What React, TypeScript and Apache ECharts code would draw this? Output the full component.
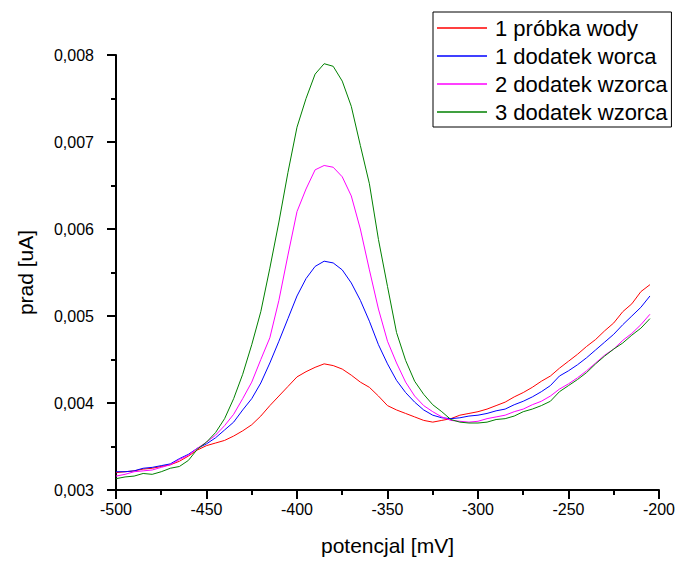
import React, { useEffect, useRef } from "react";
import * as echarts from "echarts";

const potentials = [
  -500, -495, -490, -485, -480, -475, -470, -465, -460, -455,
  -450, -445, -440, -435, -430, -425, -420, -415, -410, -405,
  -400, -395, -390, -385, -380, -375, -370, -365, -360, -355,
  -350, -345, -340, -335, -330, -325, -320, -315, -310, -305,
  -300, -295, -290, -285, -280, -275, -270, -265, -260, -255,
  -250, -245, -240, -235, -230, -225, -220, -215, -210, -205,
];

const probkaWody = [
  0.00320, 0.00321, 0.00322, 0.00324, 0.00325, 0.00327, 0.00329, 0.00333, 0.00339, 0.00346,
  0.00351, 0.00354, 0.00357, 0.00362, 0.00368, 0.00375, 0.00385, 0.00397, 0.00408, 0.00419,
  0.00430, 0.00436, 0.00441, 0.00445, 0.00443, 0.00439, 0.00432, 0.00424, 0.00418, 0.00408,
  0.00397, 0.00392, 0.00388, 0.00384, 0.00380, 0.00378, 0.00380, 0.00382, 0.00386, 0.00388,
  0.00390, 0.00393, 0.00397, 0.00401, 0.00407, 0.00412, 0.00418, 0.00425, 0.00431, 0.00440,
  0.00448, 0.00456, 0.00465, 0.00473, 0.00483, 0.00492, 0.00505, 0.00514, 0.00528, 0.00536,
];

const dodatek1 = [
  0.00321, 0.00321, 0.00322, 0.00325, 0.00326, 0.00328, 0.00330, 0.00336, 0.00341, 0.00348,
  0.00353, 0.00360, 0.00369, 0.00378, 0.00392, 0.00405, 0.00423, 0.00446, 0.00471, 0.00497,
  0.00523, 0.00543, 0.00557, 0.00563, 0.00561, 0.00553, 0.00538, 0.00518, 0.00494, 0.00467,
  0.00445, 0.00426, 0.00412, 0.00401, 0.00392, 0.00386, 0.00383, 0.00382, 0.00383, 0.00385,
  0.00386, 0.00388, 0.00391, 0.00393, 0.00398, 0.00402, 0.00407, 0.00413, 0.00420, 0.00431,
  0.00437, 0.00444, 0.00452, 0.00461, 0.00470, 0.00479, 0.00490, 0.00500, 0.00510, 0.00523,
];

const dodatek2 = [
  0.00316, 0.00318, 0.00321, 0.00322, 0.00323, 0.00326, 0.00329, 0.00335, 0.00340, 0.00348,
  0.00355, 0.00363, 0.00374, 0.00387, 0.00405, 0.00424, 0.00450, 0.00475, 0.00518, 0.00570,
  0.00620, 0.00646, 0.00668, 0.00673, 0.00671, 0.00660, 0.00638, 0.00600, 0.00553, 0.00508,
  0.00471, 0.00446, 0.00424, 0.00408, 0.00397, 0.00390, 0.00384, 0.00380, 0.00379, 0.00378,
  0.00379, 0.00382, 0.00384, 0.00386, 0.00390, 0.00393, 0.00398, 0.00402, 0.00408, 0.00416,
  0.00422, 0.00429, 0.00437, 0.00446, 0.00455, 0.00462, 0.00472, 0.00480, 0.00490, 0.00502,
];

const dodatek3 = [
  0.00313, 0.00315, 0.00316, 0.00319, 0.00318, 0.00321, 0.00325, 0.00327, 0.00334, 0.00347,
  0.00355, 0.00366, 0.00382, 0.00405, 0.00433, 0.00467, 0.00505, 0.00555, 0.00608, 0.00665,
  0.00717, 0.00750, 0.00778, 0.00790, 0.00787, 0.00770, 0.00741, 0.00696, 0.00652, 0.00588,
  0.00534, 0.00481, 0.00449, 0.00425, 0.00410, 0.00398, 0.00390, 0.00381, 0.00378, 0.00377,
  0.00377, 0.00378, 0.00381, 0.00382, 0.00385, 0.00390, 0.00393, 0.00397, 0.00402, 0.00413,
  0.00420, 0.00427, 0.00435, 0.00445, 0.00454, 0.00462, 0.00469, 0.00478, 0.00486, 0.00497,
];

const seriesNames = ["1 próbka wody", "1 dodatek worca", "2 dodatek wzorca", "3 dodatek wzorca"];
const seriesColors = ["#ff0000", "#0000ff", "#ff00ff", "#008000"];
const seriesValues = [probkaWody, dodatek1, dodatek2, dodatek3];

const FONT = "'Liberation Sans', Arial, sans-serif";

export default function App() {
  const ref = useRef<HTMLDivElement>(null);
  useEffect(() => {
    if (!ref.current) return;
    const chart = echarts.init(ref.current, undefined, { renderer: "svg" });
    const makeAxisParts = () => ({
      axisLine: { show: true, lineStyle: { color: "#000", width: 2 } },
      axisTick: { show: true, inside: false, length: 9, lineStyle: { color: "#000", width: 2 } },
      minorTick: { show: true, splitNumber: 2, length: 5, lineStyle: { color: "#000", width: 2 } },
      splitLine: { show: false },
      minorSplitLine: { show: false },
      nameTextStyle: { color: "#000", fontSize: 21, fontFamily: FONT },
    });
    chart.setOption({
      animation: false,
      backgroundColor: "#fff",
      grid: { left: 116, right: 19, top: 55, bottom: 69, containLabel: false },
      legend: {
        show: true,
        orient: "vertical",
        left: 433,
        top: 12,
        padding: [2, 4, 1, 4],
        itemGap: 0,
        itemWidth: 50,
        itemHeight: 1.5,
        icon: "rect",
        borderColor: "#000",
        borderWidth: 1,
        borderRadius: 0,
        backgroundColor: "#fff",
        data: seriesNames,
        textStyle: {
          color: "#000",
          fontSize: 22,
          fontFamily: FONT,
          lineHeight: 28,
          padding: [0, 0, 0, 3],
        },
      },
      xAxis: {
        type: "value",
        min: -500,
        max: -200,
        interval: 50,
        name: "potencjal [mV]",
        nameLocation: "middle",
        nameGap: 45,
        ...makeAxisParts(),
        axisLabel: { color: "#000", fontSize: 16, fontFamily: FONT, margin: 11 },
      },
      yAxis: {
        type: "value",
        min: 0.003,
        max: 0.008,
        interval: 0.001,
        name: "prad [uA]",
        nameLocation: "middle",
        nameGap: 80,
        ...makeAxisParts(),
        axisLabel: {
          color: "#000",
          fontSize: 16,
          fontFamily: FONT,
          margin: 22,
          formatter: (v: number) => v.toFixed(3).replace(".", ","),
        },
      },
      series: seriesNames.map((name, s) => ({
        name,
        type: "line",
        symbol: "none",
        showSymbol: false,
        color: seriesColors[s],
        lineStyle: { color: seriesColors[s], width: 1 },
        data: potentials.map((x, i) => [x, seriesValues[s][i]]),
      })),
    });
    return () => chart.dispose();
  }, []);
  return (
    <div
      ref={ref}
      style={{ position: "fixed", left: 0, top: 0, width: 678, height: 561, background: "#fff" }}
    />
  );
}
